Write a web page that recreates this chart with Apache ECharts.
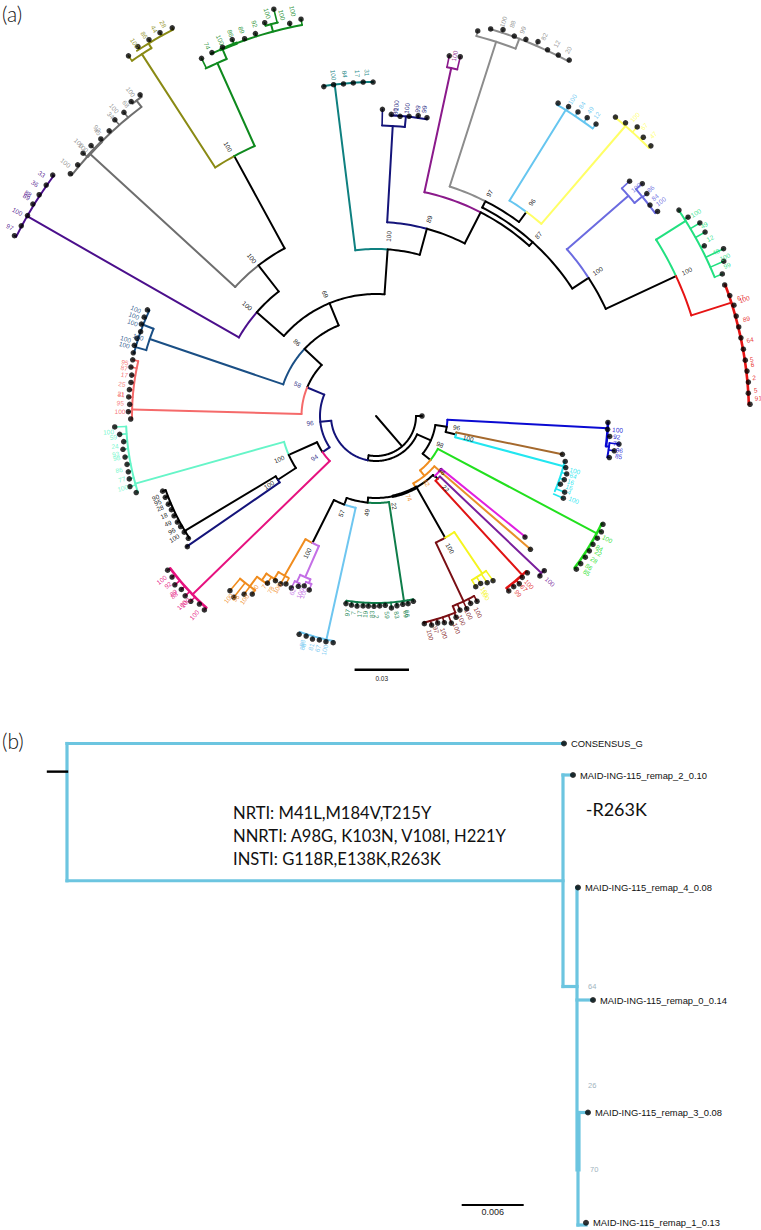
<!DOCTYPE html>
<html><head><meta charset="utf-8">
<style>html,body{margin:0;padding:0;background:#fff}#c{width:761px;height:1230px}</style>
<script src="https://cdn.jsdelivr.net/npm/echarts@6/dist/echarts.min.js"></script>
</head><body><div id="c"></div>
<script>
// ---------- clade colours ----------
const colors = {k:'#000000',olive:'#8a8a14',green:'#0f8a1e',gray:'#6e6e6e',gray2:'#8c8c8c',plum:'#4b0f8c',teal:'#0f8080',
 navy:'#14147a',mag:'#8b1a8b',lblue:'#66c6f0',yel:'#ffff66',peri:'#6b6be0',spring:'#22e080',red:'#e61414',steel:'#1a4f85',
 salmon:'#f56a6a',aqua:'#66f5c8',hot:'#e6127f',orange:'#f08c1e',orchid:'#c46fe6',sky:'#6ec6f0',dkgreen:'#0e7d4a',maroon:'#7a0f14',
 yel2:'#f5f51e',red2:'#e01414',pur2:'#7a1f9c',magenta:'#e020e0',orange2:'#e8902a',bright:'#22e01e',cyan:'#22e6f0',brown:'#a5692d',blue:'#0a0ad2'};
// ---------- panel (a): radial branches [colour, angle deg, r from, r to], r in units of 0.03/52 subs/site ----------
const stems = [
['k',139.2,0,40],['k',90,40,46],['k',190.6,40,45],['navy',264,45,56],['navy',292.5,56,74.5],['k',313.2,74.5,98],['k',337.6,98,122],
['k',311,122,158],['k',322,158,191],['k',331.4,191,296],['olive',327.1,296,431],['olive',328.6,431,436.5],
['green',335.8,296,387],['green',337.3,387,398],['green',345,398,405.6],['gray',312.5,191,387],['gray',322.8,388,396],
['plum',299.8,158,402],['k',4,122,167],['teal',352.9,167,334],['k',15.2,167,194],['k',27.2,194,229],['k',42,229,234],['k',27,234,241],
['k',36.4,241,253.5],['k',57,234,253.5],['k',65,253.5,331],['navy',3.3,194,290.5],['navy',5.7,290.5,301],['mag',12.2,229,356],
['gray2',17.8,241,393],['gray2',20.8,393,403.5],['lblue',31.8,253.5,360],['yel',40.7,253.5,382.5],['peri',48.9,253.5,335],['peri',50.5,335,345],
['spring',57.8,331,366],['red',72.3,331,373],['k',114,45,60],['k',98.6,60,71.5],['k',103,71.5,82],['brown',101.6,82,190],['cyan',105,82,194],
['blue',93,71.5,232],['blue',97.5,232,235],['k',128.9,60,70],['bright',118,70,250],['orange',141,70,77],['orange2',130.8,77,204],['orange',151,77,82],
['k',136,82,84],['magenta',129,84,192],['k',135.5,84,88],['k',150.4,82,140],['maroon',154.7,140,205],['maroon',158,205,212],['yel2',146,140,190],
['red2',137.4,88,216],['pur2',133.5,88,228],['k',185.5,82,87],['dkgreen',171.4,87,187],['k',199.7,87,94],['sky',192.5,94,229],['k',206.6,94,142],
['orchid',203.7,142,176],['orchid',205.5,176,184],['orchid',201.9,176,180],['orange',209.8,142,184],['orange',212,184,192],['orange',214.8,192,200],['orange',216.5,200,212],
['navy',236,56,64.5],['k',246,64.5,95.5],['k',237,95.5,117],['k',239,117,223],['navy',235.4,117,230],['aqua',254.3,95.5,250],['hot',225.8,64.5,256],
['salmon',271.5,74.5,244],['steel',288.8,98,239],['steel',291.4,239,250],['steel',286,239,250]
];
// ---------- panel (a): arcs [colour, r, angle from, angle to, optional width] ----------
const arcs = [
['k',40,90,190.6],['k',45,114,190.6],['navy',45,190.6,264],['navy',56,236,292.5],['k',74.5,292.5,313.2],['salmon',74.5,271.5,292.5],
['steel',98,288.8,313.2],['k',98,313.2,337.6],['k',122,311,360],['k',122,0,4],['plum',158,299.8,311],['k',158,311,322],['gray',191,312.5,322],['k',191,322,331.4],
['olive',296,327.1,331.4],['green',296,331.4,335.8],['olive',431,325.5,328.6],['olive',436.5,326.8,332.3],['green',387,333.9,337.3],['green',398,335.5,349.3],
['green',398,337,339.5,3.2],['green',405.6,344.2,346],['gray',388,308.4,322.8],['gray',388,312,315,3],['gray',396,322.1,323.7],['plum',402,296.5,306.7],['teal',167,352.9,360],['teal',167,0,4],
['k',167,4,15.2],['teal',334,351,359.5],['navy',194,3.3,15.2],['k',194,15.2,27.2],['mag',229,12.2,27.2],['k',229,27.2,42],['k',234,27,57],['gray2',241,17.8,27],['k',241,27,36.4],
['lblue',253.5,31.8,36.4],['yel',253.5,36.4,40.7],['peri',253.5,48.8,57],['k',253.5,57,65],['spring',331,57.8,65],['red',331,65,72.3],['navy',290.5,1.2,5.7],['navy',301,2.9,9.7],
['mag',356,11.5,13.2],['gray2',393,14.8,20.8],['gray2',403.5,16.5,28.5],['lblue',360,30.2,37],['yel',382.5,38.7,45.5],['peri',335,47.2,50.5],['peri',345,48.9,54],['spring',366,55.8,67.7],
['red',373,69.4,88.2,2.6],['k',60,98.6,128.9],['blue',71.5,93,98.6],['k',71.5,98.6,103],['brown',82,101.6,103],['cyan',82,103,105],['cyan',194,103.5,112.8],['blue',232,91.6,97.5,2.6],['blue',235,96.6,100.1],
['bright',70,118,129],['orange',70,129,141],['bright',250,115.5,127.4,2.6],['orange',77,130.8,151],['k',82,136,150.4],['k',82,150.4,168,3.4],['k',82,168,185.5],['magenta',84,129,135.5],['pur2',88,133.5,135.5],['red2',88,135.5,137.4],
['maroon',140,150.4,154.7],['yel2',140,146,150.4],['maroon',205,151.4,158],['maroon',212,158,167],['yel2',190,144.6,149.7],['red2',216,136,142.8,2.6],['pur2',228,132.6,134.3],
['dkgreen',87,171.4,185.5],['k',87,185.5,199.7],['dkgreen',187,168.6,189.1],['sky',94,192.5,199.7],['k',94,199.7,206.6],['sky',229,190.7,199.4],['orange',142,206.6,209.8],['orchid',142,203.7,206.6],
['orchid',176,201.9,205.5],['orchid',184,204.5,206.2],['orchid',180,201,202.9],['orange',184,208.5,212],['orange',192,211.4,214.8],['orange',200,213,216.5],['orange',212,214.8,219.9],
['k',64.5,236,246],['hot',64.5,225.8,236],['aqua',95.5,246,254.3],['k',95.5,237,246],['k',117,237,239],['navy',117,235.4,237],['k',223,236.9,250.6],['aqua',250,252.3,267.6],['hot',256,221.5,233.5,2.6],
['salmon',244,269.3,283],['steel',239,286,291.4],['steel',250,284.6,295]
];
// ---------- panel (a): tips per clade [angle, radius] ----------
const tipsCentre=[[90,46]];
const tipsOlive=[[325.5,437],[327.2,439.5],[328.9,439.5],[330.6,440],[332.3,438.4]];
const tipsGreen=[[334,398],[335.7,398.7],[337.4,399.5],[339.1,403],[340.8,399.5],[342.5,401],[344.2,408.7],[345.9,419.4],[347.6,402],[349.3,403.8]];
const tipsGray=[[308.4,390],[310.1,390],[311.9,393.5],[313.5,392.8],[315.2,390.5],[316.9,390.5],[318.6,394.9],[320.3,394.6],[322.1,398.5],[323.7,398.5]];
const tipsPlum=[[296.5,404],[298.2,402.5],[299.9,402],[301.7,403.3],[303.3,403],[305,402.6],[306.7,403.2]];
const tipsTeal=[[351,333.5],[352.7,334],[354.4,333.6],[356.1,333.8],[357.8,334.2],[359.5,334]];
const tipsNavy=[[1.2,306.8],[2.9,302],[4.6,300.7],[6.3,301.5],[8,303.3],[9.7,302.6]];
const tipsMag=[[11.5,367.6],[13.2,369]];
const tipsGray2=[[14.8,398.3],[16.5,403.7],[18.2,406.7],[20,404.3],[21.7,405.4],[23.4,407.9],[25.1,404.4],[26.8,404.4],[28.5,405]];
const tipsLblue=[[30.2,362],[31.9,364.4],[33.6,365],[35.3,365.5],[37,365.6]];
const tipsYel=[[38.7,383],[40.4,385],[42.1,389.6],[43.8,386.2],[45.5,385.4]];
const tipsPeri=[[47.2,345.6],[48.9,353.4],[50.6,350.5],[52.4,345.8],[54,348]];
const tipsSpring=[[55.8,366.3],[57.5,370],[59.2,377],[60.8,377],[62.6,369.8],[64.3,385.7],[66,380.7],[67.7,374.3]];
const tipsRed=[[69.4,372.5],[71.2,373.7],[72.8,374.7],[74.5,373.8],[76.2,373.5],[77.9,373.2],[79.7,373.4],[81.4,373.5],[83.1,373.7],[84.8,373.9],[86.5,373],[88.2,374.2]];
const tipsBlue=[[91.6,232],[93.3,232],[95,234.6],[96.6,244.6],[98.3,240.8],[100.1,237]];
const tipsBrown=[[101.6,190.3]];
const tipsCyan=[[103.5,194.6],[105.2,196.6],[106.9,199.3],[108.7,198.8],[110.3,196.6],[112,203.5],[113.7,204.6]];
const tipsBright=[[115.5,251.5],[117.2,253.4],[118.9,252.8],[120.6,252.1],[122.3,252.4],[124,252.5],[125.8,252.4],[127.4,252.2]];
const tipsMagenta=[[129.1,192]];
const tipsOrange2=[[130.8,204]];
const tipsPur2=[[132.6,228.6],[134.3,229]];
const tipsRed2=[[136,218],[137.8,217.8],[139.5,220.6],[141.1,219.3],[142.8,219.6]];
const tipsYel2=[[144.6,202],[146.3,200.4],[148,197.4],[149.7,197.7]];
const tipsMaroon=[[151.4,211],[153.2,209.9],[154.8,213],[156.6,211.4],[158.3,216.6],[160,220.3],[161.7,217.7],[163.4,216],[165.1,216.3],[166.9,213.2]];
const tipsDkgreen=[[168.6,189],[170.3,190.4],[171.9,190.2],[173.7,190.9],[175.4,192.6],[177.2,189.5],[178.9,190],[180.6,190.3],[182.3,190.2],[183.9,190.4],[185.7,191],[187.4,190.6],[189.1,190]];
const tipsSky=[[190.7,230.7],[192.5,231.2],[194.2,231],[195.9,231.9],[197.6,230.9],[199.4,231.4]];
const tipsOrchid=[[201,186.3],[202.9,184.5],[204.5,187.2],[206.2,191.7]];
const tipsOrange=[[208.2,190.6],[209.6,193.1],[211.4,193],[213,199.3],[214.8,216.8],[216.5,221.7],[218.1,230.3],[219.9,227.7]];
const tipsHot=[[221.5,259],[223.2,258],[225,262],[226.7,262.2],[228.3,260.7],[230,262.6],[231.7,259.9],[233.5,259.2]];
const tipsDknavy=[[235.3,229.5]];
const tipsBlack=[[236.9,224],[238.8,224.2],[240.5,224.5],[241.9,225.2],[243.7,225.3],[245.4,225],[247,225.6],[248.9,225.8],[250.6,226.2]];
const tipsAqua=[[252.3,251.7],[254,256],[255.7,254.6],[257.3,253.9],[259,253.6],[260.7,254.3],[262.5,255.2],[264.2,253.6],[265.9,257],[267.6,261.5]];
const tipsSalmon=[[269.3,245.3],[271,247.7],[272.7,246.6],[274.4,248],[276.1,248],[277.8,247.3],[279.5,247.7],[281.3,249.9],[283,249.7]];
const tipsSteel=[[284.6,250.8],[286.3,251.8],[288,251.3],[289.7,250],[291.4,252],[293.1,252],[294.9,252]];
// ---------- panel (a): support labels [text, angle, radius, colour] ----------
const supportOlive=[['100',327.1,444],['86',328.7,446],['44',330.2,446],['28',331.5,446]].map(x=>[...x,'olive']);
const supportGreen=[['74',335.5,407],['100',337.5,407],['86',339.2,409.4],['89',340.8,408.7],['92',342.8,410.5],['100',344.9,417],['100',346.8,412],['100',348.4,413.5]].map(x=>[...x,'green']);
const supportGray=[['100',309.2,400.6],['100',312.6,403.6],['100',312.5,397],['92',315.9,400.5],['45',315.6,398],['100',319.6,404],['34',318.6,401],['68',321.3,400],['100',322.9,406.6]].map(x=>[...x,'gray2']);
const supportPlum=[['97',297.3,412],['100',299.7,412.8],['89',302.1,412.4],['88',302.6,413],['36',304.3,412.8],['33',305.9,412.7]].map(x=>[...x,'plum']);
const supportTeal=[['100',352.9,343.7],['84',354.8,343.4],['17',356.9,343],['31',358.5,343.4]].map(x=>[...x,'teal']);
const supportNavy=[['100',3.7,311],['80',3.6,305],['100',5.7,309.2],['99',7.7,309.8],['99',8.9,310.5]].map(x=>[...x,'navy']);
const supportMag=[['100',12.3,368.4,'mag']];
const supportGray2=[['100',17.9,414.3],['88',19.2,415],['99',20.8,413],['82',23.9,415],['12',25.9,413.6],['20',27.7,413.4]].map(x=>[...x,'gray2']);
const supportLblue=[['100',31.8,372.6],['84',33.5,372.9],['49',35,373.4],['12',36.3,373]].map(x=>[...x,'lblue']);
const supportYel=[['100',40.9,395.4],['67',42.8,394.6],['47',44.6,394.8]].map(x=>[...x,'yel']);
const supportPeri=[['100',48.7,346],['86',50.4,356.4],['84',51.9,354.5],['100',53,356.6]].map(x=>[...x,'peri']);
const supportSpring=[['100',57.6,378.8],['49',59.8,379.6],['12',62,378.3],['48',64.2,377.6],['100',65.5,383.4],['99',66.8,382]].map(x=>[...x,'spring']);
const supportRed=[['67',72,383.4],['100',72.4,386.4],['89',75.3,383],['64',78.5,381.6],['5',81.4,380],['6',82.2,380],['2',84.2,380],['5',86.1,380.6],['91',87.3,382.7]].map(x=>[...x,'red']);
const supportBlue=[['100',93.3,242],['92',94.9,241.6],['78',96.5,242.2],['96',98,245.7],['85',99.4,246]].map(x=>[...x,'blue']);
const supportCyan=[['100',105.4,206.4],['64',106.9,206.2],['16',108.7,205.5],['16',110.2,206],['4',111.5,207.8],['100',113,215]].map(x=>[...x,'cyan']);
const supportBright=[['100',118,262],['84',120.6,259.6],['22',121.6,261],['28',123.4,261.3],['86',125.3,261],['85',126.6,262.6]].map(x=>[...x,'bright']);
const supportPur2=[['100',133.6,240.3,'pur2']];
const supportRed2=[['100',137.7,227.6],['67',139.3,227],['99',141.3,227.3]].map(x=>[...x,'red2']);
const supportYel2=[['100',148.2,206.8],['100',148.6,210]].map(x=>[...x,'yel2']);
const supportMaroon=[['100',166.1,225.6],['97',164.3,222.2],['100',162.6,227.7],['100',159.2,227.1],['100',157.2,221.3],['100',154.9,219],['100',152.5,221.4]].map(x=>[...x,'maroon']);
const supportDkgreen=[['97',188.3,198.8],['7',186.6,198.6],['17',184.8,198.7],['19',183.2,198.6],['83',181.2,198.3],['2',179.8,200.7],['59',176.8,199.3],['83',174,200],['69',171.4,200.3],['66',171,200]].map(x=>[...x,'dkgreen']);
const supportSky=[['88',198,239],['88',197.6,242],['81',195.7,239.7],['67',194.1,239.5],['100',192.4,239.6]].map(x=>[...x,'sky']);
const supportOrchid=[['62',205.4,194.5],['100',203.2,193],['100',202.3,191.6]].map(x=>[...x,'orchid']);
const supportOrange=[['100',219,234.6],['95',217.6,230],['100',215.7,225.7],['90',215.1,210.5],['7',213.3,204],['78',211.2,203.4],['100',209.8,198.6]].map(x=>[...x,'orange']);
const supportHot=[['100',232.6,269.9],['92',230.9,268.2],['89',228.9,268.9],['88',228.4,270],['100',225.8,271],['100',225.6,267],['100',222.4,269.5]].map(x=>[...x,'hot']);
const supportBlack=[['90',249.7,235],['95',248.4,234.7],['28',246.9,234.8],['18',244.8,234.3],['49',242.7,234.3],['96',240.6,234.4],['100',238.8,235.9]].map(x=>[...x,'k']);
const supportAqua=[['100',266.6,268],['59',265.4,263.5],['24',263.4,262.7],['93',261.7,263],['98',260.8,262.7],['86',258.1,262.6],['77',256,262],['100',254.1,263.4]].map(x=>[...x,'aqua']);
const supportSalmon=[['95',282.1,256.6],['87',280.8,256.2],['17',279.3,255],['25',277.2,256],['21',275,256],['31',274.8,255.6],['95',272.9,256],['100',271,256]].map(x=>[...x,'salmon']);
const supportSteel=[['100',294,262.8],['100',292.5,262],['100',291,260.7],['100',288.4,250.6],['100',287.1,261.9],['100',285.8,261.5]].map(x=>[...x,'steel']);
const supportInner=[['100',331.2,307.3,'k'],['100',321.8,200.8,'k'],['100',310.6,169.5,'k'],['69',337.4,132,'k'],['86',313,108,'k'],['58',292,84.5,'navy'],['96',264,66.3,'navy'],
['94',236,74.5,'navy'],['100',246,106,'k'],['100',237.2,127.3,'k'],['100',4,180,'k'],['89',15.1,204,'k'],['97',27,250,'k'],['96',36.1,264.6,'k'],['87',41.9,243,'k'],
['100',56.8,264.9,'k'],['100',65,342.9,'k'],['96',98.2,81.5,'k'],['100',103.6,95,'k'],['98',113.9,70,'k'],['96',130,86,'k'],['62',143,84,'orange'],['74',158,88,'orange'],['22',136,100.4,'k'],
['100',150.8,151.6,'k'],['22',168.5,91.8,'k'],['49',185.5,97,'k'],['57',199.6,103.3,'k'],['100',206.6,153.5,'k']];
// ---------- panel (b): branches [x from, row from, x to, row to, width] ----------
const treeBBranches=[[0.0019,4.28,0.0516,4.28],[0.0019,3.06,0.0515,3.06],[0.0019,3.06,0.0019,4.28],[0.0515,2.12,0.0515,4.0],[0.0515,4.0,0.0525,4.0],[0.0515,2.12,0.0529,2.12],
[0.0529,3.0,0.0529,0.49],[0.0529,3.0,0.0530,3.0],[0.0529,2.0,0.0545,2.0],[0.0530,1.0,0.0540,1.0],[0.0531,1.0,0.0531,0.49],[0.0530,0.49,0.0530,0],[0.0530,0,0.0538,0]];
const treeBRoot=[[0,4.03,0.0019,4.03]];
const treeBTipNames=['CONSENSUS_G','MAID-ING-115_remap_2_0.10','MAID-ING-115_remap_4_0.08','MAID-ING-115_remap_0_0.14','MAID-ING-115_remap_3_0.08','MAID-ING-115_remap_1_0.13'];
const treeBTipX=[0.0516,0.0525,0.0530,0.0545,0.0540,0.0538];
const treeBTipRow=[4.28,4.0,3.0,2.0,1.0,0.02];
const treeBSupport=[['64',0.0540,2.12],['26',0.0540,1.24],['70',0.0542,0.49]];
const treeBNotes=[['NRTI: M41L,M184V,T215Y',0.0185,3.665],['NNRTI: A98G, K103N, V108I, H221Y',0.0185,3.462],['INSTI: G118R,E138K,R263K',0.0185,3.256]];
const treeBNote2=[['-R263K',0.05377,3.698]];
const scaleB=[0.04147,0.04747,0.178,'0.006',0.113];
const scaleA=[0.2053,0.2353,4.936,'0.03',4.86];

// ---------- build ----------
const cladeTips=[tipsCentre,tipsOlive,tipsGreen,tipsGray,tipsPlum,tipsTeal,tipsNavy,tipsMag,tipsGray2,tipsLblue,tipsYel,tipsPeri,tipsSpring,tipsRed,tipsBlue,tipsBrown,tipsCyan,tipsBright,tipsMagenta,tipsOrange2,tipsPur2,tipsRed2,tipsYel2,tipsMaroon,tipsDkgreen,tipsSky,tipsOrchid,tipsOrange,tipsHot,tipsDknavy,tipsBlack,tipsAqua,tipsSalmon,tipsSteel];
const cladeInfo=[[tipsOlive,'olive',436.5],[tipsGreen,'green',398],[tipsGray,'gray',388],[tipsPlum,'plum',402],[tipsTeal,'teal',334],[tipsNavy,'navy',301],[tipsMag,'mag',356],[tipsGray2,'gray2',403.5],
[tipsLblue,'lblue',360],[tipsYel,'yel',382.5],[tipsPeri,'peri',345],[tipsSpring,'spring',366],[tipsRed,'red',373],[tipsBlue,'blue',232],[tipsCyan,'cyan',194],[tipsBright,'bright',250],[tipsPur2,'pur2',228],
[tipsRed2,'red2',216],[tipsYel2,'yel2',190],[tipsMaroon,'maroon',205],[tipsDkgreen,'dkgreen',187],[tipsSky,'sky',229],[tipsOrange,'orange',184],[tipsHot,'hot',256],[tipsBlack,'k',223],[tipsAqua,'aqua',250],[tipsSalmon,'salmon',244],[tipsSteel,'steel',250]];
const baseOverride={'325.5':431,'334':387,'344.2':405.6,'345.9':405.6,'322.1':396,'323.7':396,'1.2':290.5,'14.8':393,'47.2':335,'96.6':235,'98.3':235,'100.1':235,
 '158.3':212,'160':212,'161.7':212,'163.4':212,'165.1':212,'166.9':212,'211.4':192,'213':192,'214.8':212,'216.5':212,'218.1':212,'219.9':212,'201':180,'202.9':180,'204.5':184,'206.2':184};
const edges=[];
stems.forEach(s=>edges.push([s[0],s[2],s[1],s[3],s[1],2]));
arcs.forEach(a=>edges.push([a[0],a[1],a[2],a[1],a[3],a[4]||2]));
cladeInfo.forEach(([tips,c,base])=>tips.forEach(t=>{
  const b=baseOverride[String(t[0])]; edges.push([c,b!==undefined?b:base,t[0],t[1],t[0],1.6]);
}));
tipsOrchid.forEach(t=>edges.push(['orchid',baseOverride[String(t[0])],t[0],t[1],t[0],1.6]));
const allSupport=[].concat(supportOlive,supportGreen,supportGray,supportPlum,supportTeal,supportNavy,supportMag,supportGray2,supportLblue,supportYel,supportPeri,supportSpring,supportRed,supportBlue,supportCyan,supportBright,supportPur2,supportRed2,supportYel2,supportMaroon,supportDkgreen,supportSky,supportOrchid,supportOrange,supportHot,supportBlack,supportAqua,supportSalmon,supportSteel,supportInner);

const edgeSeries={type:'custom',coordinateSystem:'polar',silent:true,z:2,
  data:edges.map(e=>[e[1],e[2],e[3],e[4],e[5],e[0]]),
  dimensions:['r0','a0','r1','a1','w','c'],
  renderItem(p,api){
    const e=edges[p.dataIndex];const pts=[];
    if(e[2]===e[4]){pts.push(api.coord([e[1],e[2]]).slice(0,2),api.coord([e[3],e[4]]).slice(0,2));}
    else{const n=Math.max(2,Math.ceil(Math.abs(e[4]-e[2])));for(let i=0;i<=n;i++){pts.push(api.coord([e[1],e[2]+(e[4]-e[2])*i/n]).slice(0,2));}}
    return {type:'polyline',shape:{points:pts},style:{stroke:colors[e[0]],fill:null,lineWidth:e[5],lineCap:'round',lineJoin:'round'}};
  }};
const tipSeries={type:'scatter',coordinateSystem:'polar',silent:true,z:4,symbolSize:5.5,itemStyle:{color:'#000'},
  data:[].concat(...cladeTips).map(t=>[t[1],t[0]])};
const supportSeries={type:'custom',coordinateSystem:'polar',silent:true,z:5,
  data:allSupport.map(s=>[s[2],s[1]]),
  renderItem(p,api){
    const s=allSupport[p.dataIndex];const pt=api.coord([s[2],s[1]]);
    const a=s[1];const rot=(a<=180?90-a:270-a)*Math.PI/180;
    return {type:'text',x:pt[0],y:pt[1],rotation:rot,style:{text:s[0],fill:colors[s[3]],font:'6.5px "Liberation Sans"',align:'center',verticalAlign:'middle',opacity:0.9}};
  }};
const segSeries=(rows,xi,yi,color,w)=>({type:'custom',coordinateSystem:'cartesian2d',xAxisIndex:xi,yAxisIndex:yi,silent:true,z:2,data:rows,
  renderItem(p,api){
    const r=rows[p.dataIndex];const a=api.coord([r[0],r[1]]),b=api.coord([r[2],r[3]]);
    return {type:'line',shape:{x1:a[0],y1:a[1],x2:b[0],y2:b[1]},style:{stroke:color,lineWidth:w,lineCap:'square'}};
  }});
const textSeries=(rows,xi,yi,color,font,align)=>({type:'custom',coordinateSystem:'cartesian2d',xAxisIndex:xi,yAxisIndex:yi,silent:true,z:5,data:rows.map(r=>[r[1],r[2]]),
  renderItem(p,api){
    const r=rows[p.dataIndex];const a=api.coord([r[1],r[2]]);
    return {type:'text',x:a[0],y:a[1],style:{text:r[0],fill:color,font:font,align:align||'left',verticalAlign:'middle'}};
  }});
const rowsTip=treeBTipNames.map((n,i)=>[n,treeBTipX[i]+0.0007,treeBTipRow[i]]);
const hidden={show:false};
const fullGrid={left:0,top:0,width:761,height:1230,containLabel:false,show:false};
const yB={type:'value',min:-0.0444,max:10.889,show:false,splitLine:hidden};
const option={animation:false,backgroundColor:'#fff',
  polar:{center:[376,416],radius:500},
  angleAxis:{type:'value',min:0,max:360,startAngle:90,clockwise:true,show:false,splitLine:hidden,axisLine:hidden,axisLabel:hidden,axisTick:hidden},
  radiusAxis:{type:'value',min:0,max:500,show:false,splitLine:hidden,axisLine:hidden,axisLabel:hidden,axisTick:hidden},
  grid:[fullGrid,fullGrid],
  xAxis:[{type:'value',gridIndex:0,min:-0.0048,max:0.0713,show:false,splitLine:hidden},{type:'value',gridIndex:1,min:0,max:761/1733,show:false,splitLine:hidden}],
  yAxis:[Object.assign({gridIndex:0},yB),Object.assign({gridIndex:1},yB)],
  graphic:[{type:'text',left:2,top:3,style:{text:'(a)',font:'300 21px Lato',fill:'#111'}},{type:'text',left:2,top:730,style:{text:'(b)',font:'300 21px Lato',fill:'#111'}}],
  series:[edgeSeries,tipSeries,supportSeries,
    segSeries(treeBBranches,0,0,'#6cc5e0',3.2),segSeries(treeBRoot,0,0,'#000',2.4),
    {type:'scatter',xAxisIndex:0,yAxisIndex:0,silent:true,z:4,symbolSize:6,itemStyle:{color:'#000'},data:treeBTipX.map((x,i)=>[x,treeBTipRow[i]])},
    textSeries(rowsTip,0,0,'#111','9.4px "Liberation Sans"'),
    textSeries(treeBSupport,0,0,'#9fb4c0','7.5px "Liberation Sans"'),
    textSeries(treeBNotes,0,0,'#111','16.6px Lato'),
    textSeries(treeBNote2,0,0,'#111','18px Lato'),
    segSeries([[scaleB[0],scaleB[2],scaleB[1],scaleB[2]]],0,0,'#000',2),
    textSeries([[scaleB[3],(scaleB[0]+scaleB[1])/2,scaleB[4]]],0,0,'#222','9px "Liberation Sans"','center'),
    segSeries([[scaleA[0],scaleA[2],scaleA[1],scaleA[2]]],1,1,'#000',2.4),
    textSeries([[scaleA[3],(scaleA[0]+scaleA[1])/2,scaleA[4]]],1,1,'#222','6.5px "Liberation Sans"','center')
  ]};
echarts.init(document.getElementById('c'),null,{renderer:'svg'}).setOption(option);
</script></body></html>
